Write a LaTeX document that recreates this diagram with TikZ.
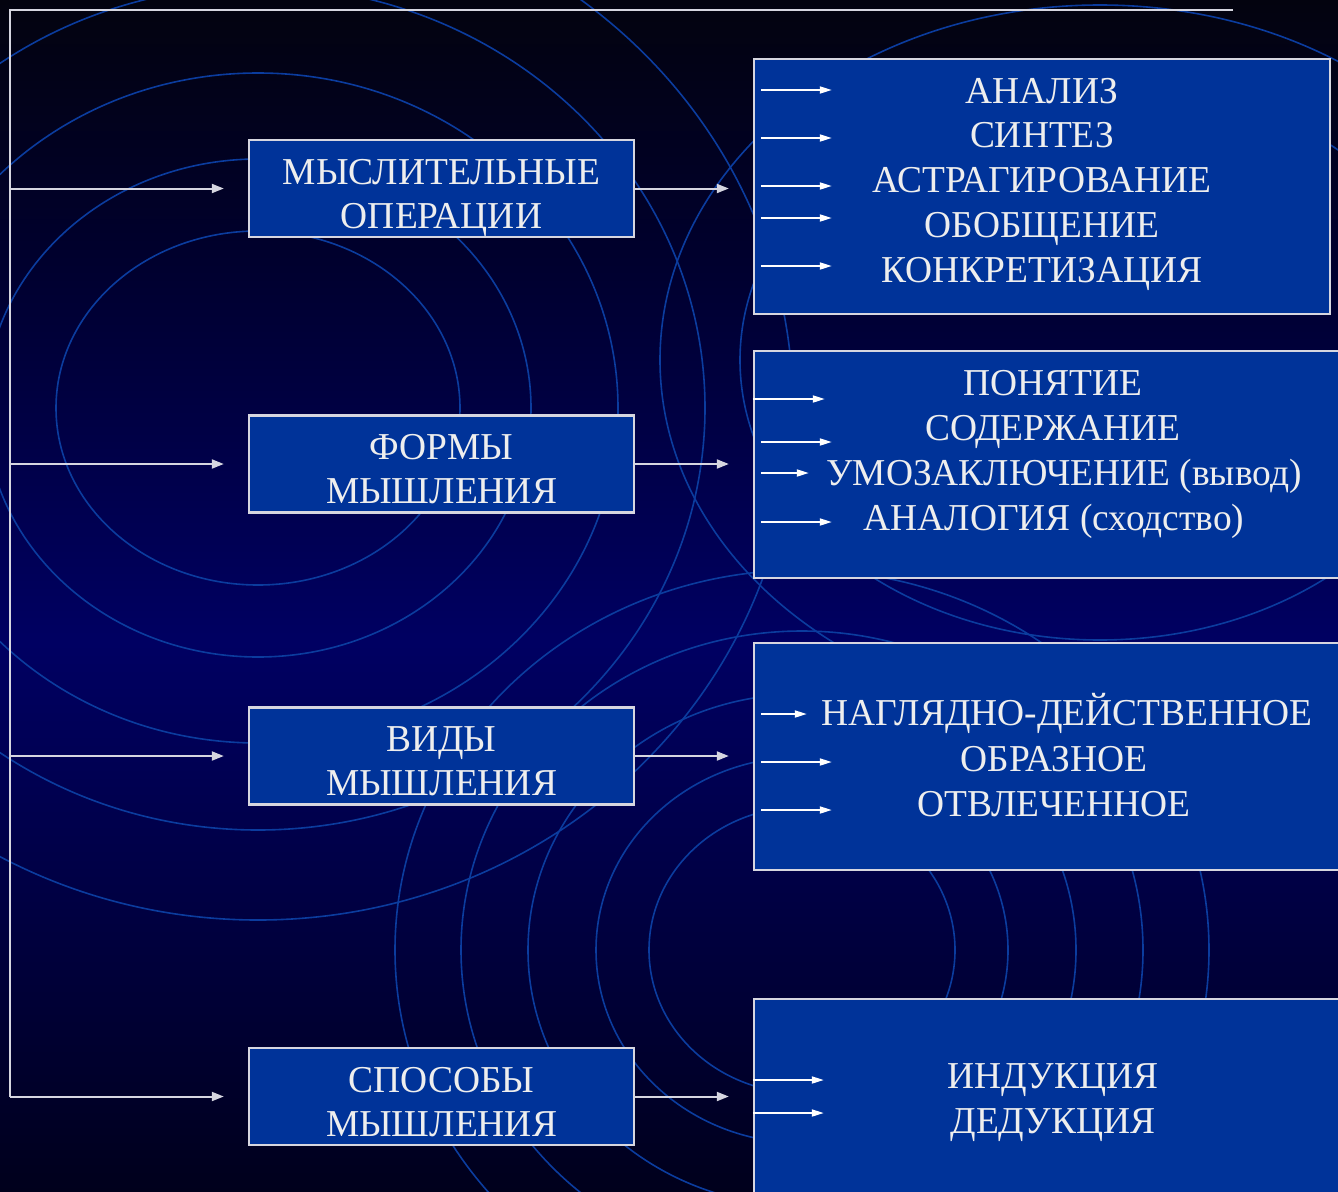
\documentclass[tikz,border=0pt]{standalone}
\usepackage{fontspec}
\setmainfont{Liberation Serif}[FakeStretch=0.985]
\usetikzlibrary{arrows.meta,calc}

\definecolor{bgtop}{HTML}{03030F}
\definecolor{bgupper}{HTML}{00002E}
\definecolor{bgmid}{HTML}{000062}
\definecolor{bglow}{HTML}{000042}
\definecolor{bgbot}{HTML}{00001C}
\definecolor{ring}{HTML}{0B3C9E}
\definecolor{boxfill}{HTML}{003399}
\definecolor{edge}{HTML}{D6D6E0}
\definecolor{ink}{HTML}{EEEEEE}

% dark navy backdrop, brightest a little below the middle
\pgfdeclareverticalshading{backdrop}{100bp}{%
  color(0bp)=(bgbot); color(25bp)=(bgbot); color(37bp)=(bglow);
  color(48bp)=(bgmid); color(64bp)=(bgupper); color(75bp)=(bgtop); color(100bp)=(bgtop)}

\begin{document}
\begin{tikzpicture}[x=1pt,y=-1pt,
  ringline/.style={draw=ring,line width=1.6pt},
  catbox/.style={draw=edge,line width=2.4pt,fill=boxfill,minimum width=385pt,minimum height=97pt,inner sep=0pt},
  listbox/.style={draw=edge,line width=2.4pt,fill=boxfill,inner sep=0pt},
  word/.style={text=ink,inner sep=0pt,anchor=base,font=\fontsize{38}{44}\selectfont},
  trunk/.style={draw=edge,line width=2pt},
  link/.style={draw=edge,line width=2pt,-{Triangle[length=12pt,width=9pt]}},
  tick/.style={draw=white,line width=1.8pt,-{Triangle[length=12pt,width=7pt]}}]

\useasboundingbox (0,0) rectangle (1338,1191);
\begin{scope}
\clip (0,0) rectangle (1338,1191);

\shade[shading=backdrop] (0,0) rectangle (1338,1191);

% concentric rings, left group
\foreach \rx/\ry in {202/177,273/249,360/335,447/422,535/512}
  \draw[ringline] (258,408) ellipse [x radius=\rx pt,y radius=\ry pt];
% concentric rings, lower group
\foreach \rx/\ry in {153/143,206/193,274/256,341/319,407/380}
  \draw[ringline] (802,950) ellipse [x radius=\rx pt,y radius=\ry pt];
% concentric rings, upper right group
\foreach \rx/\ry in {360/280,440/355}
  \draw[ringline] (1100,360) ellipse [x radius=\rx pt,y radius=\ry pt];

% category boxes
\node[catbox] (ops)   at (441.5,188.5) {};
\node[catbox] (forms) at (441.5,464) {};
\node[catbox] (kinds) at (441.5,756) {};
\node[catbox] (ways)  at (441.5,1096.5) {};

\node[word] (ops-a)   at ([yshift=4.5pt]ops.center)    {МЫСЛИТЕЛЬНЫЕ};
\node[word] (ops-b)   at ([yshift=-39.5pt]ops.center)  {ОПЕРАЦИИ};
\node[word] (forms-a) at ([yshift=4.5pt]forms.center)  {ФОРМЫ};
\node[word] (forms-b) at ([yshift=-39.5pt]forms.center){МЫШЛЕНИЯ};
\node[word] (kinds-a) at ([yshift=4.5pt]kinds.center)  {ВИДЫ};
\node[word] (kinds-b) at ([yshift=-39.5pt]kinds.center){МЫШЛЕНИЯ};
\node[word] (ways-a)  at ([yshift=4.5pt]ways.center)   {СПОСОБЫ};
\node[word] (ways-b)  at ([yshift=-39.5pt]ways.center) {МЫШЛЕНИЯ};

% list boxes
\node[listbox,minimum width=576pt,minimum height=255pt] (ops-list)   at (1042,186.5) {};
\node[listbox,minimum width=596pt,minimum height=227pt] (forms-list) at (1052,464.5) {};
\node[listbox,minimum width=596pt,minimum height=227pt] (kinds-list) at (1052,756.5) {};
\node[listbox,minimum width=596pt,minimum height=210pt] (ways-list)  at (1052,1104) {};

% trunk line and branches
\coordinate (corner) at (10,10);
\coordinate (rim) at (1233,10);
\coordinate (foot) at (10,1096.5);
\draw[trunk] (rim) -- (corner) -- (foot);
\foreach \n in {ops,forms,kinds,ways}{
  \draw[link] (\n.west -| corner) -- ([xshift=-24pt]\n.west);
  \draw[link] (\n.east) -- ($(\n.east -| \n-list.west)+(-24,0)$);
}

% list entries: mental operations
\node[word] (analysis)  at (1042,103) {АНАЛИЗ};
\node[word] (synthesis) at (1042,147) {СИНТЕЗ};
\node[word] (abstr)     at (1042,192) {АСТРАГИРОВАНИЕ};
\node[word] (general)   at (1042,237) {ОБОБЩЕНИЕ};
\node[word] (concrete)  at (1042,282) {КОНКРЕТИЗАЦИЯ};
\foreach \y in {90,138,186,218,266}
  \draw[tick] ([xshift=8pt]ops-list.west |- 0,\y) -- ++(71,0);

% list entries: forms of thinking
\node[word] (concept)   at (1053,395) {ПОНЯТИЕ};
\node[word] (content)   at (1053,440) {СОДЕРЖАНИЕ};
\node[word] (inference) at (1064,485) {УМОЗАКЛЮЧЕНИЕ (вывод)};
\node[word] (analogy)   at (1054,530) {АНАЛОГИЯ (сходство)};
\draw[tick] (forms-list.west |- 0,399) -- ++(72,0);
\draw[tick] ([xshift=8pt]forms-list.west |- 0,442) -- ++(71,0);
\draw[tick] ([xshift=8pt]forms-list.west |- 0,473) -- ++(48,0);
\draw[tick] ([xshift=8pt]forms-list.west |- 0,522) -- ++(71,0);

% list entries: kinds of thinking
\node[word] (visual)   at (1067,725) {НАГЛЯДНО-ДЕЙСТВЕННОЕ};
\node[word] (figural)  at (1054,771) {ОБРАЗНОЕ};
\node[word] (abstract) at (1054,816) {ОТВЛЕЧЕННОЕ};
\draw[tick] ([xshift=8pt]kinds-list.west |- 0,714) -- ++(46,0);
\draw[tick] ([xshift=8pt]kinds-list.west |- 0,762) -- ++(71,0);
\draw[tick] ([xshift=8pt]kinds-list.west |- 0,810) -- ++(71,0);

% list entries: methods of thinking
\node[word] (induction) at (1053,1088) {ИНДУКЦИЯ};
\node[word] (deduction) at (1053,1133) {ДЕДУКЦИЯ};
\draw[tick] (ways-list.west |- 0,1080) -- ++(71,0);
\draw[tick] (ways-list.west |- 0,1113) -- ++(71,0);
\end{scope}
\end{tikzpicture}
\end{document}
